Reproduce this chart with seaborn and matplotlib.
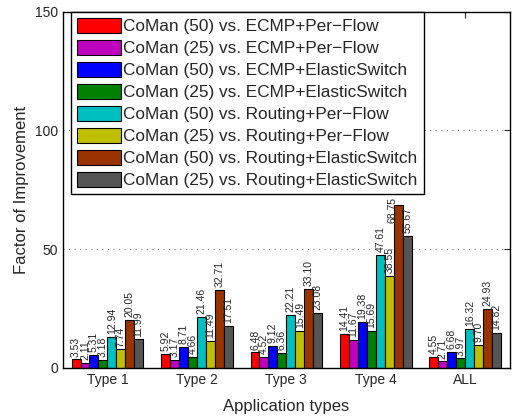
import matplotlib
matplotlib.use("Agg")
import matplotlib.pyplot as plt
import seaborn as sns
import pandas as pd

categories = ["Type 1", "Type 2", "Type 3", "Type 4", "ALL"]
series_names = [
    "CoMan (50) vs. ECMP+Per\u2212Flow",
    "CoMan (25) vs. ECMP+Per\u2212Flow",
    "CoMan (50) vs. ECMP+ElasticSwitch",
    "CoMan (25) vs. ECMP+ElasticSwitch",
    "CoMan (50) vs. Routing+Per\u2212Flow",
    "CoMan (25) vs. Routing+Per\u2212Flow",
    "CoMan (50) vs. Routing+ElasticSwitch",
    "CoMan (25) vs. Routing+ElasticSwitch",
]
s1 = [3.53, 5.92, 6.48, 14.41, 4.55]
s2 = [2.11, 3.17, 4.52, 11.67, 2.71]
s3 = [5.31, 8.71, 9.12, 19.38, 6.68]
s4 = [3.18, 4.66, 6.36, 15.69, 3.97]
s5 = [12.94, 21.46, 22.21, 47.61, 16.32]
s6 = [7.74, 11.49, 15.49, 38.55, 9.70]
s7 = [20.05, 32.71, 33.10, 68.75, 24.93]
s8 = [11.99, 17.51, 23.08, 55.67, 14.82]
series_values = [s1, s2, s3, s4, s5, s6, s7, s8]
colors = ["#ff0000", "#bf00bf", "#0000ff", "#008000",
          "#00bfbf", "#bfbf00", "#993300", "#555555"]
yticks = [0, 50, 100, 150]

rows = []
for name, vals in zip(series_names, series_values):
    for c, v in zip(categories, vals):
        rows.append({"cat": c, "series": name, "value": v})
df = pd.DataFrame(rows)

sns.set_style("white")
plt.rcParams["font.family"] = ["Liberation Sans", "DejaVu Sans"]

fig = plt.figure(figsize=(5.22, 4.17), dpi=100)
ax = fig.add_axes([0.120, 0.118, 0.857, 0.854])

sns.barplot(data=df, x="cat", y="value", hue="series", order=categories,
            hue_order=series_names, palette=colors, width=0.8,
            edgecolor="black", linewidth=0.8, saturation=1, ax=ax,
            errorbar=None, legend=True)

label_sets = []
for cont, vals in zip(ax.containers, series_values):
    anns = ax.bar_label(cont, labels=["%.2f" % v for v in vals], rotation=90,
                        padding=2, fontsize=7.5)
    label_sets.append((cont, anns))

ax.set_xlim(-0.5, 4.5)
ax.set_ylim(0, 150)
ax.set_yticks(yticks)
ax.set_yticklabels([str(t) for t in yticks], fontsize=10)
ax.set_xticks(range(len(categories)))
ax.set_xticklabels(categories, fontsize=10)
ax.set_xlabel("Application types", fontsize=12, labelpad=9)
ax.set_ylabel("Factor of Improvement", fontsize=12)
ax.yaxis.grid(True, linestyle=(0, (1, 4)), color="gray", linewidth=0.8)
ax.set_axisbelow(True)
ax.tick_params(direction="in", length=4, top=True, right=True, width=0.8)
for sp in ax.spines.values():
    sp.set_color("black")
    sp.set_linewidth(1.0)

leg = ax.legend(loc="upper left", bbox_to_anchor=(0.018, 1.0), borderaxespad=0,
                fontsize=12.4, frameon=True, fancybox=False, edgecolor="black",
                handlelength=2.55, handleheight=0.95, handletextpad=0.15,
                labelspacing=0.33, borderpad=0.35)
leg.get_frame().set_linewidth(1.0)
leg.get_frame().set_alpha(1)

# labels that would run into the legend sit beside their bar, as in the reference
fig.canvas.draw()
renderer = fig.canvas.get_renderer()
leg_bb = leg.get_window_extent(renderer)
for cont, anns in label_sets:
    for bar, ann in zip(cont.patches, anns):
        if ann.get_window_extent(renderer).overlaps(leg_bb):
            x = bar.get_x() - bar.get_width() * 0.1
            ann.xy = (x, bar.get_height())
            ann.xyann = (0, -4)
            ann.set_va("center")

fig.savefig("out.png", dpi=100)
